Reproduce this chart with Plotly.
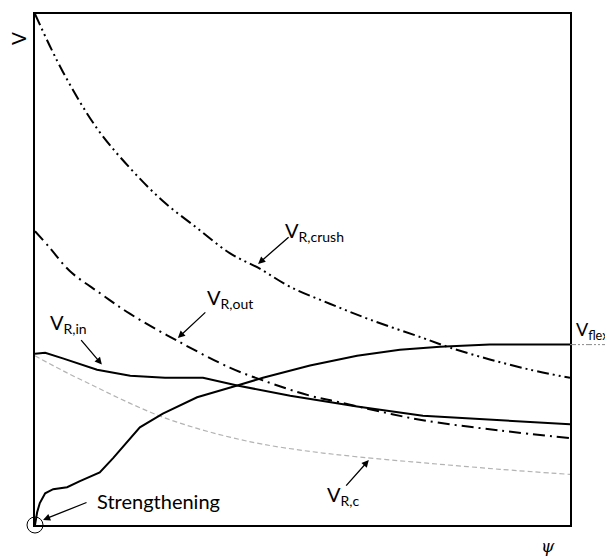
import plotly.graph_objects as go

# ---- data ----
crush_x = [0, 0.52, 1.16, 1.78, 2.39, 3.03, 3.64, 4.21, 4.77, 5.51, 6.26, 7.25, 7.76, 8.50, 9.25, 10]
crush_y = [10, 8.87, 7.76, 6.98, 6.34, 5.81, 5.32, 5.01, 4.66, 4.33, 4.02, 3.66, 3.47, 3.24, 3.04, 2.88]

out_x = [0, 0.28, 0.65, 1.21, 1.78, 2.65, 3.64, 4.26, 5.14, 5.70, 6.45, 7.25, 8.69, 10]
out_y = [5.75, 5.42, 4.97, 4.54, 4.13, 3.61, 3.08, 2.83, 2.53, 2.40, 2.22, 2.05, 1.85, 1.70]

in_x = [0, 0.19, 0.52, 1.16, 1.78, 2.43, 3.14, 3.78, 4.77, 6.02, 7.25, 8.69, 10]
in_y = [3.35, 3.37, 3.26, 3.04, 2.92, 2.88, 2.88, 2.73, 2.53, 2.32, 2.14, 2.05, 1.97]

flex_x = [0, 0.04, 0.09, 0.19, 0.34, 0.60, 0.84, 1.21, 1.46, 1.96, 2.39, 3.03, 3.78, 4.26, 5.14, 6.02, 6.82, 7.57, 8.50, 10]
flex_y = [0, 0.25, 0.43, 0.62, 0.70, 0.74, 0.86, 1.03, 1.31, 1.91, 2.18, 2.50, 2.73, 2.88, 3.12, 3.31, 3.43, 3.49, 3.53, 3.53]

rc_x = [0, 0.52, 1.16, 1.78, 2.39, 3.03, 3.64, 4.26, 5.14, 6.07, 7.33, 8.69, 10]
rc_y = [3.31, 3.02, 2.69, 2.38, 2.11, 1.89, 1.72, 1.58, 1.44, 1.33, 1.21, 1.09, 0.99]

X_RANGE = [0, 10]
Y_RANGE = [0, 10]

# page is offset by the default body margin (8px)
OFF = 8
W, H = 613 - OFF, 559 - OFF
# plot area in page pixels: x 35..570, y 12..525
PL, PR, PT, PB = 35, 570, 12, 525
ML, MT = PL - OFF, PT - OFF
MR, MB = W - (PR - OFF), H - (PB - OFF)
PW, PH = PR - PL, PB - PT

FONT = "Lato"


def px(xp):
    return (xp - PL) / PW


def py(yp):
    return (PB - yp) / PH


fig = go.Figure()

fig.add_trace(go.Scatter(x=rc_x, y=rc_y, mode="lines", line_shape="spline",
                         line=dict(color="#b3b3b3", width=1.2, dash="5px,3px"),
                         showlegend=False, hoverinfo="skip"))
fig.add_trace(go.Scatter(x=crush_x, y=crush_y, mode="lines", line_shape="spline",
                         line=dict(color="black", width=2, dash="12px,4px,2px,4px,2px,4px"),
                         showlegend=False, hoverinfo="skip"))
fig.add_trace(go.Scatter(x=out_x, y=out_y, mode="lines", line_shape="spline",
                         line=dict(color="black", width=2, dash="12px,5px,2px,5px"),
                         showlegend=False, hoverinfo="skip"))
fig.add_trace(go.Scatter(x=in_x, y=in_y, mode="lines",
                         line=dict(color="black", width=2),
                         showlegend=False, hoverinfo="skip"))
fig.add_trace(go.Scatter(x=flex_x, y=flex_y, mode="lines",
                         line=dict(color="black", width=2),
                         showlegend=False, hoverinfo="skip"))
# circle at origin
fig.add_trace(go.Scatter(x=[flex_x[0]], y=[flex_y[0]], mode="markers", cliponaxis=False,
                         marker=dict(symbol="circle-open", size=16, color="black",
                                     line=dict(width=1, color="black")),
                         showlegend=False, hoverinfo="skip"))

# V_flex extension outside frame
yf = (flex_y[-1] - Y_RANGE[0]) / (Y_RANGE[1] - Y_RANGE[0])
fig.add_shape(type="line", xref="paper", yref="paper", x0=1, x1=px(613), y0=yf, y1=yf,
              line=dict(color="#8a8a8a", width=1, dash="6px,2px,2px,2px,2px,2px"))

arrow_common = dict(showarrow=True, arrowhead=2, arrowsize=1.1, arrowwidth=1.3,
                    arrowcolor="black", text="", axref="pixel", ayref="pixel")
# arrows: (tip x, tip y, ax, ay)
fig.add_annotation(x=4.17, y=5.11, ax=32, ay=-28, **arrow_common)
fig.add_annotation(x=2.67, y=3.66, ax=29, ay=-27, **arrow_common)
fig.add_annotation(x=1.25, y=3.14, ax=-22, ay=-26, **arrow_common)
fig.add_annotation(x=6.24, y=1.27, ax=-24, ay=27, **arrow_common)
fig.add_annotation(x=0.15, y=0.10, ax=45, ay=-18, **arrow_common)


def label(text, xl, yc, size=20):
    fig.add_annotation(xref="paper", yref="paper", x=px(xl), y=py(yc), text=text,
                       showarrow=False, xanchor="left", yanchor="middle",
                       font=dict(family=FONT, size=size, color="black"))


label("V<sub>R,crush</sub>", 283, 230)
label("V<sub>R,out</sub>", 205, 298)
label("V<sub>R,in</sub>", 48, 323)
label("V<sub>R,c</sub>", 325, 495)
label("V<sub>flex</sub>", 574, 330, size=18)
label("Strengthening", 95, 501, size=20)

fig.add_annotation(xref="paper", yref="paper", x=px(19), y=py(37), text="V",
                   showarrow=False, textangle=-90, xanchor="center", yanchor="middle",
                   font=dict(family=FONT, size=19, color="black"))
fig.add_annotation(xref="paper", yref="paper", x=px(548), y=py(546), text="<i>ψ</i>",
                   showarrow=False, xanchor="center", yanchor="middle",
                   font=dict(family="DejaVu Serif", size=17, color="black"))

axis_common = dict(showgrid=False, zeroline=False, showticklabels=False, ticks="",
                   showline=True, mirror=True, linecolor="black", linewidth=1.5,
                   fixedrange=True)
fig.update_xaxes(range=X_RANGE, **axis_common)
fig.update_yaxes(range=Y_RANGE, **axis_common)

fig.update_layout(width=W, height=H, margin=dict(l=ML, r=MR, t=MT, b=MB, pad=0),
                  plot_bgcolor="white", paper_bgcolor="white", showlegend=False)

fig.write_html("out.html")
